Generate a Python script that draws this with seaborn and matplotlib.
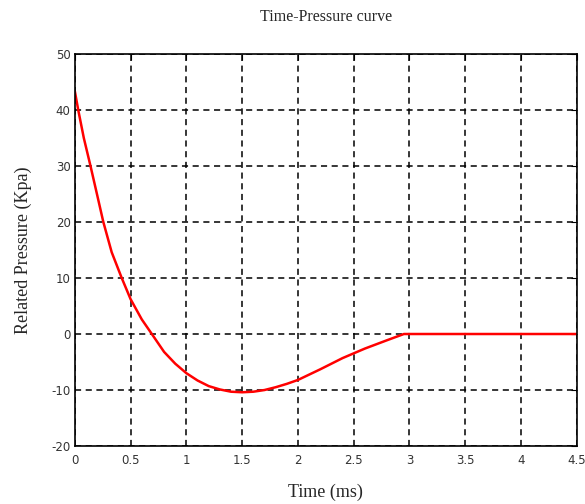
import matplotlib
matplotlib.use("Agg")
import matplotlib.pyplot as plt
import seaborn as sns
import pandas as pd

sns.set_style("white")
plt.rcParams["font.family"] = ["DejaVu Sans"]
plt.rcParams["axes.unicode_minus"] = False

# values
time_ms = [0, 0.03, 0.08, 0.14, 0.2, 0.255, 0.33, 0.42, 0.5, 0.6, 0.69, 0.8, 0.9,
           1.0, 1.1, 1.2, 1.3, 1.4, 1.5, 1.6, 1.7, 1.8, 1.9, 2.0, 2.2, 2.4, 2.6,
           2.8, 2.95, 3.0, 4.5]
pressure = [43.3, 40, 35, 30, 24.8, 20, 14.6, 10, 6.2, 2.6, 0, -3.2, -5.3,
            -7.0, -8.3, -9.3, -9.9, -10.3, -10.4, -10.3, -10.0, -9.5, -8.9, -8.2, -6.3, -4.3, -2.6,
            -1.1, 0, 0, 0]
x_ticks = [0, 0.5, 1, 1.5, 2, 2.5, 3, 3.5, 4, 4.5]
x_labels = ["0", "0.5", "1", "1.5", "2", "2.5", "3", "3.5", "4", "4.5"]
y_ticks = [-20, -10, 0, 10, 20, 30, 40, 50]

data = pd.DataFrame({"Time": time_ms, "Pressure": pressure})

fig = plt.figure(figsize=(5.85, 5.04), dpi=100)
ax = fig.add_axes([0.128, 0.115, 0.858, 0.778])

sns.lineplot(x="Time", y="Pressure", data=data, color="red", linewidth=1.8, ax=ax)

ax.set_xlim(0, 4.5)
ax.set_ylim(-20, 50)
ax.set_xticks(x_ticks)
ax.set_xticklabels(x_labels)
ax.set_yticks(y_ticks)
ax.tick_params(direction="in", length=4, labelsize=8.5, colors="black", labelcolor="#333333",
               top=True, right=True, pad=3)
ax.tick_params(axis="x", pad=6)
ax.grid(True, color="black", linestyle=(0, (4, 3)), linewidth=1.1)
for s in ax.spines.values():
    s.set_color("black")
    s.set_linewidth(1.2)

serif = ["Liberation Serif", "DejaVu Serif"]
ax.set_title("Time-Pressure curve", family=serif, fontsize=11.5, pad=24)
ax.set_xlabel("Time (ms)", family=serif, fontsize=13, labelpad=12)
ax.set_ylabel("Related Pressure (Kpa)", family=serif, fontsize=13, labelpad=14)

fig.savefig("out.png", dpi=100)
